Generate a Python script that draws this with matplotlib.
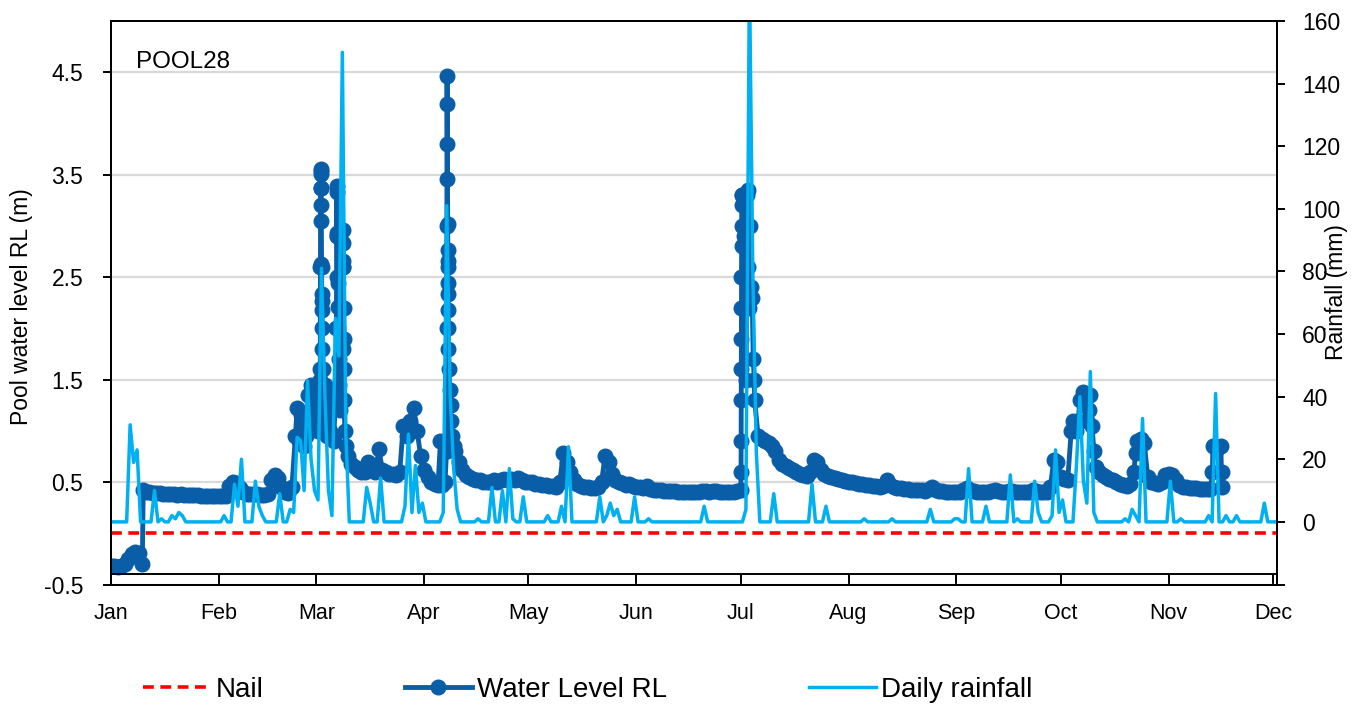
import numpy as np
import matplotlib.pyplot as plt
import matplotlib.dates as mdates
from datetime import datetime

plt.rcParams['font.family'] = ['Liberation Sans', 'DejaVu Sans']

start = mdates.date2num(datetime(2019, 1, 1))

# daily pool level (m RL), one reading per day from 1 Jan
level_jan = [-0.32, -0.32, -0.33, -0.32, -0.30, -0.25, -0.20, -0.18, -0.19, -0.30,
             0.40, 0.40, 0.39, 0.39, 0.39, 0.38, 0.38, 0.38, 0.38, 0.37,
             0.38, 0.37, 0.37, 0.37, 0.37, 0.37, 0.36, 0.36, 0.36, 0.36, 0.36]
level_feb = [0.36, 0.36, 0.36, 0.46, 0.50, 0.49, 0.44, 0.40, 0.38, 0.38,
             0.38, 0.38, 0.37, 0.37, 0.38, 0.52, 0.57, 0.54, 0.45, 0.40,
             0.39, 0.45, 0.95, 0.90, 1.05, 0.95, 1.10, 1.20]
level_mar = [1.30, 1.50, 1.00, 0.95, 1.00, 0.90, 2.93, 1.30, 1.30, 0.75,
             0.68, 0.65, 0.62, 0.60, 0.60, 0.70, 0.62, 0.60, 0.82, 0.62,
             0.60, 0.58, 0.58, 0.57, 0.60, 1.05, 0.95, 1.10, 1.22, 1.00,
             0.75]
level_apr = [0.62, 0.55, 0.50, 0.48, 0.47, 0.47, 0.50, 1.80, 0.95, 0.80,
             0.70, 0.62, 0.57, 0.55, 0.53, 0.52, 0.52, 0.50, 0.50, 0.50,
             0.52, 0.50, 0.52, 0.53, 0.52, 0.53, 0.52, 0.54, 0.52, 0.50]
level_may = [0.50, 0.50, 0.48, 0.48, 0.47, 0.47, 0.46, 0.46, 0.45, 0.50,
             0.78, 0.70, 0.60, 0.52, 0.48, 0.46, 0.45, 0.45, 0.44, 0.44,
             0.45, 0.50, 0.75, 0.70, 0.58, 0.52, 0.50, 0.49, 0.47, 0.48,
             0.46]
level_jun = [0.45, 0.45, 0.44, 0.46, 0.43, 0.42, 0.42, 0.42, 0.41, 0.41,
             0.41, 0.41, 0.40, 0.40, 0.40, 0.40, 0.40, 0.40, 0.40, 0.41,
             0.41, 0.40, 0.41, 0.41, 0.40, 0.40, 0.40, 0.40, 0.40, 0.41]
level_jul = [0.42, 2.90, 2.60, 2.40, 1.30, 0.95, 0.92, 0.90, 0.88, 0.85,
             0.80, 0.72, 0.68, 0.66, 0.64, 0.62, 0.60, 0.58, 0.57, 0.56,
             0.60, 0.72, 0.70, 0.62, 0.58, 0.56, 0.55, 0.54, 0.53, 0.52,
             0.51]
level_aug = [0.50, 0.50, 0.49, 0.48, 0.48, 0.47, 0.47, 0.46, 0.46, 0.45,
             0.46, 0.52, 0.47, 0.45, 0.44, 0.44, 0.43, 0.43, 0.42, 0.42,
             0.42, 0.42, 0.41, 0.43, 0.45, 0.42, 0.41, 0.41, 0.40, 0.40,
             0.40]
level_sep = [0.40, 0.40, 0.42, 0.44, 0.42, 0.41, 0.40, 0.40, 0.40, 0.40,
             0.41, 0.42, 0.41, 0.40, 0.40, 0.41, 0.41, 0.40, 0.40, 0.40,
             0.40, 0.40, 0.42, 0.41, 0.40, 0.40, 0.40, 0.45, 0.72, 0.70]
level_oct = [0.55, 0.53, 0.52, 1.00, 1.05, 1.10, 1.30, 1.25, 1.20, 1.05,
             0.65, 0.60, 0.57, 0.55, 0.53, 0.52, 0.50, 0.48, 0.47, 0.46,
             0.48, 0.60, 0.90, 0.92, 0.88, 0.55, 0.50, 0.49, 0.48, 0.50,
             0.57]
level_nov = [0.58, 0.57, 0.52, 0.47, 0.45, 0.45, 0.44, 0.44, 0.44, 0.43,
             0.43, 0.43, 0.43, 0.85, 0.82, 0.85]

# extra logger readings during storm events (day of year, m RL)
storm_day = [9.25,
             53.5, 54.5, 55.5, 56.5, 57.5, 58.5, 59.5,
             60.15, 60.2, 60.25, 60.3, 60.33, 60.36, 60.4, 60.43, 60.46, 60.5,
             60.53, 60.56, 60.6, 60.63, 60.7, 60.75, 60.8, 60.9,
             61.5, 62.5, 63.5, 64.5,
             64.8, 64.85, 64.9, 64.95, 65.05, 65.1, 65.15, 65.2, 65.3, 65.4, 65.55, 65.75,
             66.55, 66.6, 66.65, 66.7, 66.75, 66.8, 66.85, 66.9, 66.95, 67.2, 67.5,
             94.7,
             96.45, 96.5, 96.55, 96.6, 96.63, 96.66, 96.7, 96.73, 96.76, 96.8,
             96.83, 96.86, 96.9, 96.93, 96.96, 97.2, 97.4, 97.6, 97.8, 98.5,
             181.1, 181.12, 181.14, 181.16, 181.18, 181.2, 181.22, 181.24, 181.26, 181.28, 181.3,
             181.5, 181.7, 182.2, 182.5, 182.8, 183.2, 183.5, 183.8, 184.3, 184.6, 184.9,
             276.5, 277.5, 278.5, 279.5, 280.5, 281.5, 282.5,
             294.5,
             316.6, 316.7, 319.2, 319.3]
storm_level = [0.42,
               1.22, 1.15, 0.85, 1.35, 1.45, 1.30, 1.00,
               1.60, 2.60, 3.37, 3.54, 3.56, 3.51, 3.37, 3.20, 3.05, 2.63,
               2.60, 2.34, 2.27, 2.18, 2.00, 1.80, 1.60, 1.40,
               1.45, 1.35, 1.25, 1.30,
               2.00, 2.90, 3.39, 3.33, 2.90, 2.50, 2.44, 2.21, 2.00, 1.70, 1.45, 1.20,
               1.80, 2.60, 2.96, 2.83, 2.66, 2.60, 2.20, 1.90, 1.60, 1.00, 0.85,
               0.90,
               0.80, 2.00, 3.00, 4.46, 4.19, 3.80, 3.46, 3.02, 2.76, 2.66,
               2.60, 2.44, 2.34, 2.18, 2.00, 1.60, 1.40, 1.25, 1.10, 0.85,
               0.60, 0.90, 1.30, 1.60, 1.90, 2.20, 2.50, 2.80, 3.00, 3.20, 3.30,
               3.30, 2.20, 3.30, 1.50, 3.30, 3.35, 2.20, 3.00, 2.30, 1.70, 1.50,
               1.10, 1.00, 1.30, 1.38, 1.10, 1.35, 0.80,
               0.78,
               0.60, 0.85, 0.60, 0.45]

# daily rainfall (mm); days not listed had no rain
rain_day = [5, 6, 7, 12, 14, 17, 18, 19, 20, 32, 35, 36, 37, 41, 42, 43, 48,
            51, 52, 53, 54, 55, 56, 57, 58, 59, 60, 61, 62, 63, 64, 65, 66, 67,
            73, 74, 77, 84, 85, 86, 87, 88, 89, 95, 96, 97, 98, 99,
            105, 109, 112, 114, 115, 118, 125, 129, 131, 140, 142, 143, 144, 145,
            150, 154, 170, 182, 183, 184, 185, 190, 201, 205, 216, 224, 235,
            242, 243, 246, 251, 258, 260, 265, 266, 270, 271, 272, 273,
            277, 278, 279, 280, 281, 282, 291, 293, 294, 296, 304, 307,
            315, 317, 320, 323, 331]
rain_mm = [31, 19, 23, 10, 1, 2, 1, 3, 2, 2, 12, 5, 20, 13, 5, 2, 9,
           4, 3, 27, 26, 10, 45, 20, 10, 7, 81, 40, 10, 2, 65, 53, 150, 28,
           11, 6, 14, 5, 28, 3, 18, 3, 6, 3, 101, 40, 17, 4,
           1, 11, 10, 17, 1, 8, 2, 5, 24, 8, 2, 6, 2, 4,
           8, 1, 5, 4, 175, 78, 22, 9, 12, 5, 1, 1, 4,
           1, 1, 17, 5, 15, 1, 13, 3, 2, 23, 3, 7,
           18, 40, 13, 6, 48, 3, 1, 4, 2, 33, 13, 1,
           2, 41, 2, 2, 6]
n_rain_days = 335

nail_level = 0.0

# assemble the logger record in time order
daily = np.concatenate([level_jan, level_feb, level_mar, level_apr, level_may, level_jun,
                        level_jul, level_aug, level_sep, level_oct, level_nov])
t = np.concatenate([np.arange(len(daily)), storm_day])
wl = np.concatenate([daily, storm_level])
order = np.argsort(t, kind='stable')
t, wl = t[order], wl[order]

rain = np.zeros(n_rain_days)
rain[rain_day] = rain_mm
rain_t = np.arange(n_rain_days) + 0.5  # daily totals shown at midday

dark = '#0A5EA8'
light = '#00B0F0'

fig = plt.figure(figsize=(13.63, 7.07), dpi=100)
ax1 = fig.add_axes([111 / 1363, 1 - 584.5 / 707, 1166 / 1363, 563.5 / 707])
ax2 = ax1.twinx()

nail = ax1.axhline(nail_level, color='red', lw=2.6, ls=(0, (3, 1.8)), label='Nail', zorder=3)
lvl, = ax1.plot(start + t, wl, color=dark, lw=3.5, marker='o', ms=10.5, mec=dark, mfc=dark,
                label='Water Level RL', zorder=2)
rn, = ax2.plot(start + rain_t, rain, color=light, lw=2.5, label='Daily rainfall')
ax1.axhline(-0.4, color='black', lw=1.4, zorder=4)

ax1.set_xlim(start, start + 335.15)
ax1.set_ylim(-0.5, 5.0)
ax2.set_ylim(-20, 160)

ax1.set_yticks(np.arange(-0.5, 5.0, 1.0))
ax1.set_yticklabels(['%.1f' % v for v in np.arange(-0.5, 5.0, 1.0)])
ax2.set_yticks(np.arange(-20, 161, 20))
ax2.set_yticklabels([''] + [str(v) for v in range(0, 161, 20)])

ax1.xaxis.set_major_locator(mdates.MonthLocator())
ax1.xaxis.set_major_formatter(mdates.DateFormatter('%b'))

ax1.yaxis.grid(True, color='#D9D9D9', lw=1.6)
ax1.set_axisbelow(True)

ax1.tick_params(axis='x', direction='in', length=7.5, width=1.4, pad=13, labelsize=15.5)
ax1.tick_params(axis='y', direction='out', length=6, width=1.4, pad=14, labelsize=16.5)
ax2.tick_params(axis='y', direction='out', length=6, width=1.4, pad=12, labelsize=16.5)
for ax in (ax1, ax2):
    for s in ax.spines.values():
        s.set_linewidth(1.4)
        s.set_color('black')

ax1.text(0.0214, 0.917, 'POOL28', transform=ax1.transAxes, fontsize=17.5, va='baseline')
fig.text(22 / 1363, 1 - 307 / 707, 'Pool water level RL (m)', rotation=90,
         ha='center', va='center', fontsize=16.5)
fig.text(1336 / 1363, 1 - 292 / 707, 'Rainfall (mm)', rotation=90,
         ha='center', va='center', fontsize=16.5)

fig.legend([nail, lvl, rn], ['Nail', 'Water Level RL', 'Daily rainfall'],
           loc='center', bbox_to_anchor=(588 / 1363, 1 - 690 / 707), ncol=3,
           frameon=False, fontsize=20, handlelength=2.4, handletextpad=0.2,
           columnspacing=5.1, numpoints=1)

fig.savefig('out.png', dpi=100)
